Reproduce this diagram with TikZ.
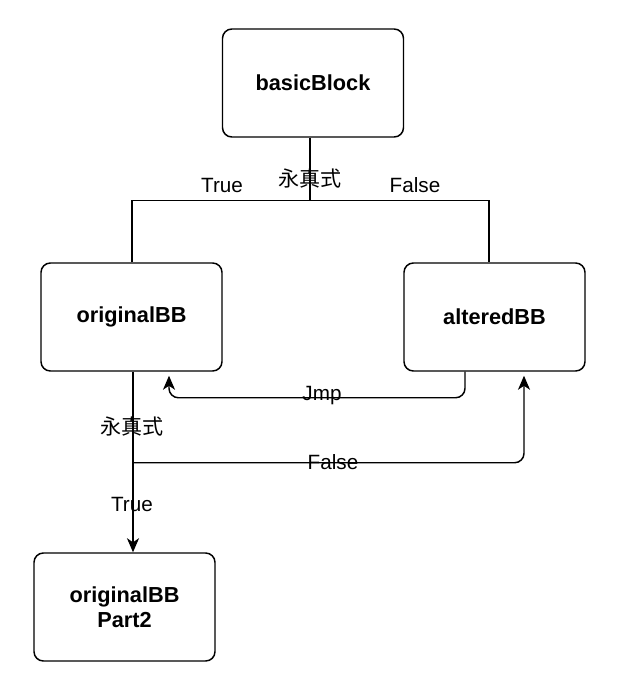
\documentclass[tikz,border=0pt]{standalone}
\usepackage{fontspec}
\setmainfont{Liberation Sans}
\newfontfamily\cjk{Noto Sans CJK SC}
\usetikzlibrary{positioning, arrows.meta, calc}

\begin{document}
\begin{tikzpicture}[
  x=0.75pt, y=-0.75pt,
  % --- Style definitions ---
  block/.style={draw, rounded corners=7pt, minimum width=135.75pt, minimum height=81pt,
                line width=1.1pt, align=center, font=\fontsize{16.3}{18.5}\selectfont\bfseries},
  line/.style={line width=1.1pt},
  arr/.style={line width=1.1pt, rounded corners=7pt, -{Stealth[length=10.5pt, width=9pt, inset=3pt]}},
  lbl/.style={font=\fontsize{15.5}{18}\selectfont, inner sep=1pt},
  zh/.style={font=\fontsize{15.8}{18}\selectfont\cjk, inner sep=1pt},
]
\useasboundingbox (0,0) rectangle (639,690);

% ===== Nodes =====
\node[block] (basic) at (313,83) {basicBlock};
\node[block] (orig) at (131.5,317) {originalBB};
\node[block] (alt) at (494.5,317) {alteredBB};
\node[block] (part2) at (124.5,607) {originalBB\\Part2};

% --- split points ---
\coordinate (split) at ($(basic.south)+(-3,63)$);
\coordinate (fork) at ($(orig.south)+(1.5,91)$);

% ===== Connectors =====

% Opaque predicate at basicBlock
\draw[line] (basic.south -| split) -- (split);
\draw[line] ($(orig.north)+(0.5,0)$) |- (split) -| ($(alt.north)+(-5.5,0)$);
\node[lbl] at (222,185) {True};
\node[lbl] at (415,185) {False};
\node[zh] at (310,178) {永真式};

% alteredBB jumps back
\draw[arr] ($(alt.south)+(-29.5,0)$) -- ++(0,26) -| ($(orig.south)+(37.5,4)$);
\node[lbl] at (322,396) {Jmp};

% Opaque predicate at originalBB
\draw[arr] ($(orig.south)+(1.5,0)$) -- ($(orig.south |- part2.north)+(1.5,0)$);
\draw[arr] (fork) -| ($(alt.south)+(29.5,4)$);
\node[zh] at (132,426) {永真式};
\node[lbl] at (132,504) {True};
\node[lbl] at (333,462) {False};

\end{tikzpicture}
\end{document}
